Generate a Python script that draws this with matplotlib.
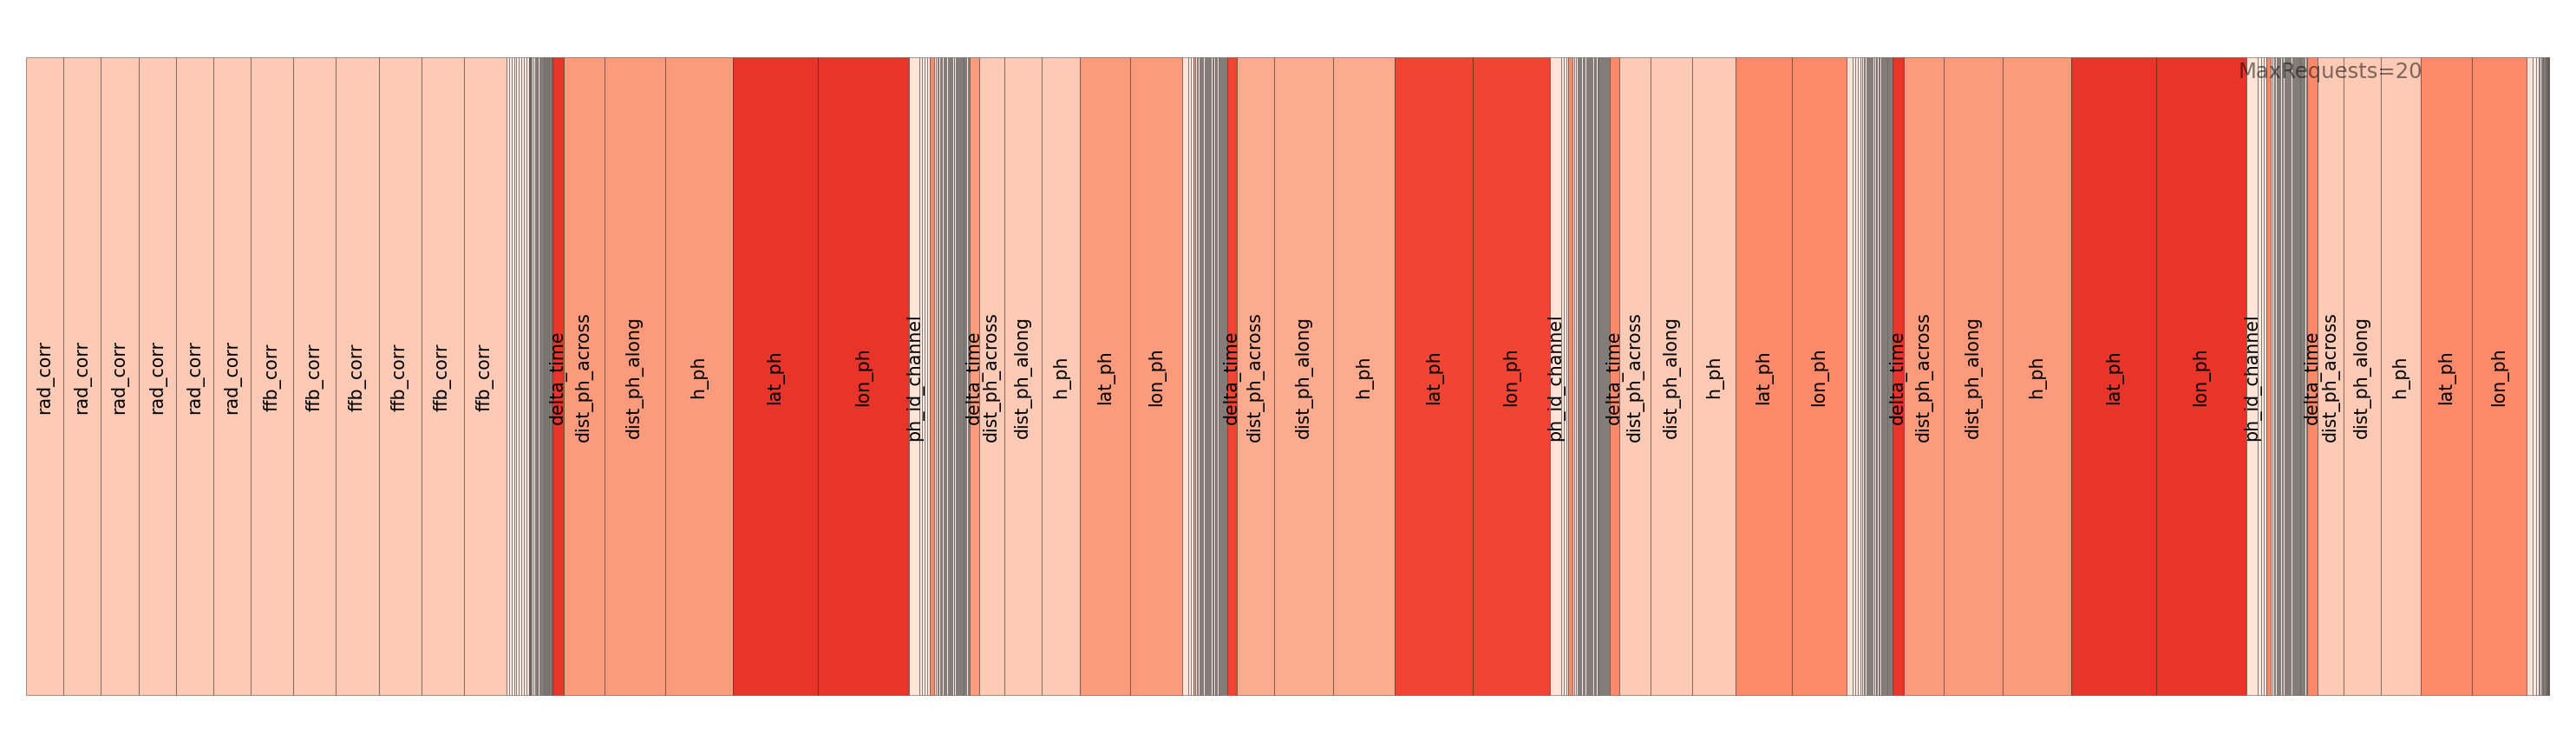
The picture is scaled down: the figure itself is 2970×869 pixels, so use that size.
import matplotlib
matplotlib.use("Agg")
import matplotlib.pyplot as plt
import numpy as np

# ---------------- data ----------------
MAX_REQUESTS = 20
THIN_REQUESTS = 1          # tiny variables, all drawn in the lightest shade
LABEL_MIN_SIZE = 9         # variables narrower than this are not labelled

calib_names = ["rad_corr", "rad_corr", "rad_corr", "rad_corr", "rad_corr", "rad_corr",
               "ffb_corr", "ffb_corr", "ffb_corr", "ffb_corr", "ffb_corr", "ffb_corr"]
calib_sizes = [43.2, 43.2, 43.2, 43.2, 43.2, 43.2, 49.1, 49.1, 49.1, 49.1, 49.1, 49.1]
calib_requests = [4, 4, 4, 4, 4, 4, 4, 4, 4, 4, 4, 4]

heights_strong = ["delta_time", "dist_ph_across", "dist_ph_along", "h_ph", "lat_ph", "lon_ph", "ph_id_channel"]
heights_weak = ["delta_time", "dist_ph_across", "dist_ph_along", "h_ph", "lat_ph", "lon_ph", "ph_id_channel"]

beam1_sizes = [13.3, 46.6, 70.1, 78.3, 97.7, 105.3, 12.0]
beam1_requests = [13, 7, 7, 7, 13, 13, 2]
beam2_sizes = [11.0, 29.0, 43.0, 44.0, 58.0, 60.0, 7.0]
beam2_requests = [7, 4, 4, 4, 7, 7, 2]
beam3_sizes = [11.0, 43.0, 68.0, 71.0, 90.0, 89.0, 13.0]
beam3_requests = [12, 6, 6, 6, 12, 12, 2]
beam4_sizes = [11.0, 36.0, 48.0, 50.0, 65.0, 63.0, 7.0]
beam4_requests = [8, 4, 4, 4, 8, 8, 2]
beam5_sizes = [13.0, 46.0, 68.0, 79.0, 98.0, 103.5, 13.5]
beam5_requests = [13, 7, 7, 7, 13, 13, 2]
beam6_sizes = [12.0, 30.0, 43.0, 46.0, 59.0, 63.0, 7.0]
beam6_requests = [8, 4, 4, 4, 8, 8, 2]

# small variables between the beams (sizes), plus the few tinted ones
thinA_sizes = [3.0, 2.8, 3.0, 2.6, 3.0, 2.8, 3.0, 2.9, 2.9,
               0.3, 0.3, 0.3, 0.3, 0.3, 0.3,
               1.8, 1.5, 1.6, 1.2, 0.9, 1.0, 0.8, 1.3, 1.1, 1.4, 1.0, 0.7, 0.8, 0.6,
               0.7, 0.6, 0.8, 0.6, 0.7, 0.6, 0.7, 0.6, 0.8, 0.7, 0.6, 0.8, 0.7, 0.6]
thin1_sizes = [3.2, 2.9, 3.1, 2.8]
mid1_sizes = [5.0]
mid1_requests = [8]
gray1_sizes = [2.0, 1.5, 1.0, 2.2, 1.2, 0.8, 1.8, 1.0, 1.4, 0.9, 2.0, 1.1, 0.8, 1.6, 1.0, 0.9,
               1.3, 0.8, 1.7, 1.0, 0.7, 1.2, 0.8, 0.9, 1.5, 0.7, 0.8, 1.0, 0.7, 0.9, 0.8, 1.2,
               1.3, 1.0, 1.5]
thin2_sizes = [3.0, 3.0]
mid2_sizes = [2.0]
mid2_requests = [7]
gray2_sizes = [1.6, 1.2, 2.0, 0.9, 1.4, 1.0, 0.8, 1.9, 1.1, 0.9, 1.5, 0.8, 1.2, 1.0, 0.7, 1.6,
               0.9, 0.8, 1.3, 0.7, 1.0, 0.8, 1.4, 0.7, 0.9, 0.8, 1.1, 0.7, 0.8, 1.0, 0.9, 1.2,
               1.2, 1.2]
thin3_sizes = [2.8, 2.6, 2.6]
mid3_sizes = [5.0]
mid3_requests = [8]
gray3_sizes = [2.2, 1.4, 1.8, 1.0, 1.5, 0.9, 1.2, 2.0, 1.1, 0.8, 1.6, 1.0, 1.3, 0.9, 0.7, 1.8,
               1.0, 0.8, 1.4, 0.7, 1.1, 0.9, 1.5, 0.8, 0.9, 0.7, 1.2, 0.8, 0.7, 1.0, 0.9, 1.3,
               0.8, 1.1, 0.9, 1.4, 1.0, 0.9]
thin4_sizes = [3.0, 2.8, 2.7, 2.5]
gray4_sizes = [1.5, 1.1, 1.9, 0.9, 1.3, 1.0, 0.8, 1.7, 1.0, 0.9, 1.4, 0.8, 1.1, 0.9, 0.7, 1.5,
               0.9, 0.8, 1.2, 0.7, 1.0, 0.8, 1.3, 0.7, 0.9, 0.8, 1.0, 0.7, 0.8, 1.0, 0.9, 1.1,
               1.0, 0.9]
thin5_sizes = [3.4, 3.3, 3.3]
mid5_sizes = [5.0]
mid5_requests = [8]
gray5_sizes = [2.1, 1.4, 1.1, 2.0, 1.2, 0.8, 1.7, 1.0, 1.5, 0.9, 1.9, 1.1, 0.8, 1.6, 1.0, 0.9,
               1.3, 0.8, 1.8, 1.0, 0.7, 1.2, 0.8, 0.9, 1.4, 0.7, 0.8, 1.0, 0.7, 0.9, 0.8, 1.2,
               1.3, 1.0, 1.4, 1.1]
thin6_sizes = [3.6, 3.4]
gray6_sizes = [1.5, 1.2, 1.0, 0.9, 0.8, 0.7, 0.8, 0.7, 0.6, 0.6, 0.5, 0.5, 0.4, 0.4, 0.3,
               0.3, 0.3, 0.3, 0.2]

# ---------------- assemble the sequence ----------------
names, sizes, requests = [], [], []

def add(seg_names, seg_sizes, seg_requests):
    names.extend(seg_names)
    sizes.extend(seg_sizes)
    requests.extend(seg_requests)

def add_thin(seg_sizes):
    add([""] * len(seg_sizes), seg_sizes, [THIN_REQUESTS] * len(seg_sizes))

add(calib_names, calib_sizes, calib_requests)
add_thin(thinA_sizes)
add(heights_strong, beam1_sizes, beam1_requests)
add_thin(thin1_sizes); add([""], mid1_sizes, mid1_requests); add_thin(gray1_sizes)
add(heights_weak, beam2_sizes, beam2_requests)
add_thin(thin2_sizes); add([""], mid2_sizes, mid2_requests); add_thin(gray2_sizes)
add(heights_strong, beam3_sizes, beam3_requests)
add_thin(thin3_sizes); add([""], mid3_sizes, mid3_requests); add_thin(gray3_sizes)
add(heights_weak, beam4_sizes, beam4_requests)
add_thin(thin4_sizes); add_thin(gray4_sizes)
add(heights_strong, beam5_sizes, beam5_requests)
add_thin(thin5_sizes); add([""], mid5_sizes, mid5_requests); add_thin(gray5_sizes)
add(heights_weak, beam6_sizes, beam6_requests)
add_thin(thin6_sizes); add_thin(gray6_sizes)

sizes_arr = np.array(sizes, dtype=float)
lefts = np.concatenate([[0.0], np.cumsum(sizes_arr)[:-1]])
total = sizes_arr.sum()

cmap = plt.get_cmap("Reds")
norm = plt.Normalize(0, MAX_REQUESTS)
colors = [cmap(norm(r)) for r in requests]

# ---------------- figure ----------------
fig = plt.figure(figsize=(29.7, 8.7), dpi=100)
ax = fig.add_axes([30 / 2970, 1 - 802 / 870, 2909 / 2970, 735 / 870])

ax.bar(lefts, 1.0, width=sizes_arr, bottom=0.0, align="edge", color=colors,
       edgecolor=(0, 0, 0, 0.36), linewidth=0.75, clip_on=False)

for x, w, n in zip(lefts, sizes_arr, names):
    if n and w >= LABEL_MIN_SIZE:
        ax.text(x + w / 2, 0.5, n, rotation=90, ha="center", va="center",
                fontsize=14.8, color="black")

ax.text(0.95, 0.995, f"MaxRequests={MAX_REQUESTS}", transform=ax.transAxes,
        ha="right", va="top", fontsize=17.5, color="black", alpha=0.5)

ax.set_xlim(0, total)
ax.set_ylim(0, 1)
ax.axis("off")

fig.savefig("out.png", dpi=100)
